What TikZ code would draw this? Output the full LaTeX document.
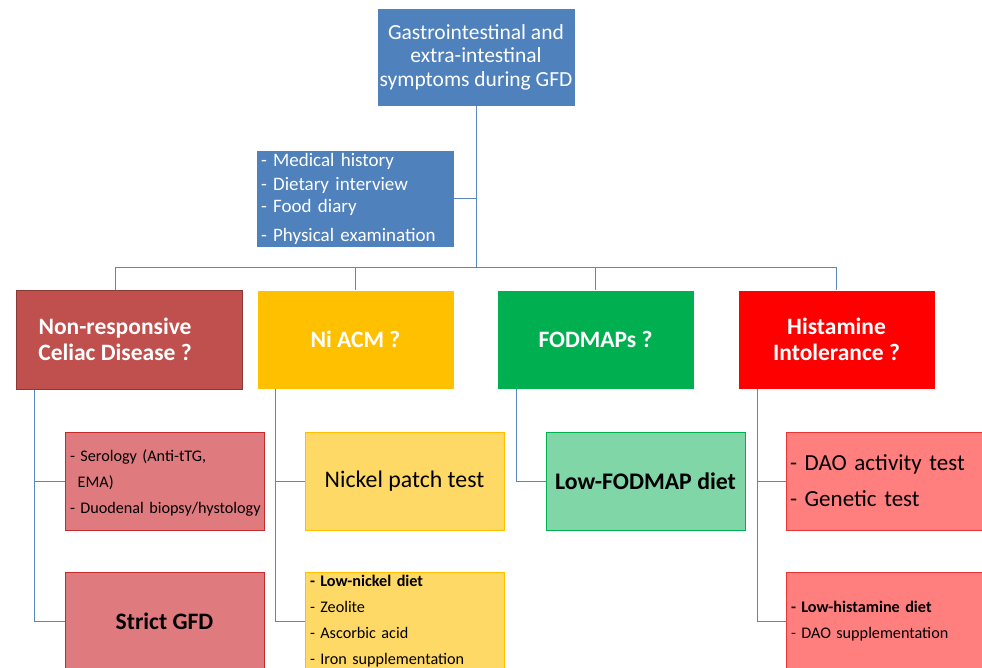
\documentclass[tikz,border=0pt]{standalone}
\usepackage{fontspec}
\setmainfont{Carlito}
\usetikzlibrary{positioning}

\definecolor{hdrblue}{HTML}{4F81BD}
\definecolor{linkblue}{HTML}{5B87BF}
\definecolor{celiac}{HTML}{C0504D}
\definecolor{celiacedge}{HTML}{8C3836}
\definecolor{celiaclight}{HTML}{DF7B7E}
\definecolor{celiaclightedge}{HTML}{C42A2A}
\definecolor{nickel}{HTML}{FFC000}
\definecolor{nickellight}{HTML}{FFD966}
\definecolor{fodmap}{HTML}{00B050}
\definecolor{fodmaplight}{HTML}{80D6A6}
\definecolor{histam}{HTML}{FF0000}
\definecolor{histamlight}{HTML}{FF7F7F}
\definecolor{histamlightedge}{HTML}{E83535}

\tikzset{
  box/.style={rectangle, inner sep=0pt, minimum height=98pt, align=center},
  bluebox/.style={box, fill=hdrblue, draw=white, line width=0.8pt, text=white},
  mainfont/.style={text=white, font=\fontsize{23.5}{26}\selectfont\bfseries},
  mainbox/.style={box, minimum width=197pt, minimum height=99pt, mainfont},
  subbox/.style={box, minimum width=199pt, line width=1pt},
  listtext/.style={align=left, text width=189pt, font=\fontsize{16.2}{26.3}\selectfont},
  conn/.style={draw=linkblue, line width=1pt},
}

\begin{document}
\begin{tikzpicture}[x=1pt, y=-1pt]
\useasboundingbox (0,0) rectangle (982,668);

% root and work-up box
\node[bluebox, minimum width=198pt, minimum height=98pt,
      font=\fontsize{21.5}{23.5}\selectfont] (top) at (476,57)
  {Gastrointestinal and\\extra-intestinal\\symptoms during GFD};
\node[bluebox, minimum width=198pt, minimum height=97pt, align=left,
      text width=188pt, font=\fontsize{19}{24}\selectfont] (workup) at (355,198.5)
  {- Medical history\\- Dietary interview\\[-2pt]- Food diary\\[5pt]- Physical examination};

% suspected conditions (the celiac box is wider; its title sits over the feed line)
\node[box, minimum width=226pt, minimum height=99pt, fill=celiac, draw=celiacedge, line width=1pt] (nrcd) at (129,339.5) {};
\node[mainfont, align=center, inner sep=0pt] (nrcdtitle) at (115,339.5)
  {Non-responsive\\Celiac Disease ?};
\node[mainbox, fill=nickel, draw=white] (ni) at (355.5,339.5) {Ni ACM ?};
\node[mainbox, fill=fodmap, draw=white] (fod) at (595.5,339.5) {FODMAPs ?};
\node[mainbox, fill=histam, draw=white] (his) at (836.5,339.5) {Histamine\\Intolerance ?};

% diagnostic tests
\node[subbox, fill=celiaclight, draw=celiaclightedge] (ser) at (164.5,481) {};
\node[listtext, inner sep=0pt] (sertext) at (164.5,483)
  {- Serology (Anti-tTG,\\\hphantom{-}\,EMA)\\\mbox{- Duodenal biopsy/hystology}};
\node[subbox, fill=nickellight, draw=nickel, font=\fontsize{23.8}{26}\selectfont] (patch) at (404.5,481)
  {Nickel patch test};
\node[subbox, fill=fodmaplight, draw=fodmap, font=\fontsize{23.8}{26}\selectfont\bfseries] (lowfod) at (645.5,481)
  {Low-FODMAP diet};
\node[subbox, fill=histamlight, draw=histamlightedge, listtext, text width=191pt,
      font=\fontsize{23}{36}\selectfont] (dao) at (885.5,481)
  {- DAO activity test\\- Genetic test};

% treatments
\node[subbox, fill=celiaclight, draw=celiaclightedge, font=\fontsize{23.6}{26}\selectfont\bfseries] (gfd) at (164.5,621)
  {Strict GFD};
\node[subbox, fill=nickellight, draw=nickel, listtext, font=\fontsize{16.2}{26}\selectfont] (lowni) at (404.5,621)
  {\textbf{- Low-nickel diet}\\- Zeolite\\- Ascorbic acid\\- Iron supplementation};
\node[subbox, fill=histamlight, draw=histamlightedge, listtext, font=\fontsize{16.2}{26}\selectfont] (lowhis) at (885.5,621)
  {\textbf{- Low-histamine diet}\\- DAO supplementation};

% trunk and bus
\coordinate (bus) at (476,268);
\coordinate (nrcdtop) at (115,290);
\draw[conn] (top.south) -- (bus);
\draw[conn] (workup.east) -- (workup.east -| top.south);
\draw[conn] (bus -| nrcdtop) -- (bus -| his.north);
\draw[conn] (nrcdtop) -- (nrcdtop |- bus);
\draw[conn] (ni.north) -- (ni.north |- bus);
\draw[conn] (fod.north) -- (fod.north |- bus);
\draw[conn] (his.north) -- (his.north |- bus);

% branches below each condition
\coordinate (nrcdL) at ([xshift=19pt]nrcd.south west);
\coordinate (niL) at ([xshift=19pt]ni.south west);
\coordinate (fodL) at ([xshift=20pt]fod.south west);
\coordinate (hisL) at ([xshift=20pt]his.south west);
\draw[conn] (nrcdL) |- (ser.west);
\draw[conn] (nrcdL) |- (gfd.west);
\draw[conn] (niL) |- (patch.west);
\draw[conn] (niL) |- (lowni.west);
\draw[conn] (fodL) |- (lowfod.west);
\draw[conn] (hisL) |- (dao.west);
\draw[conn] (hisL) |- (lowhis.west);
\end{tikzpicture}
\end{document}
